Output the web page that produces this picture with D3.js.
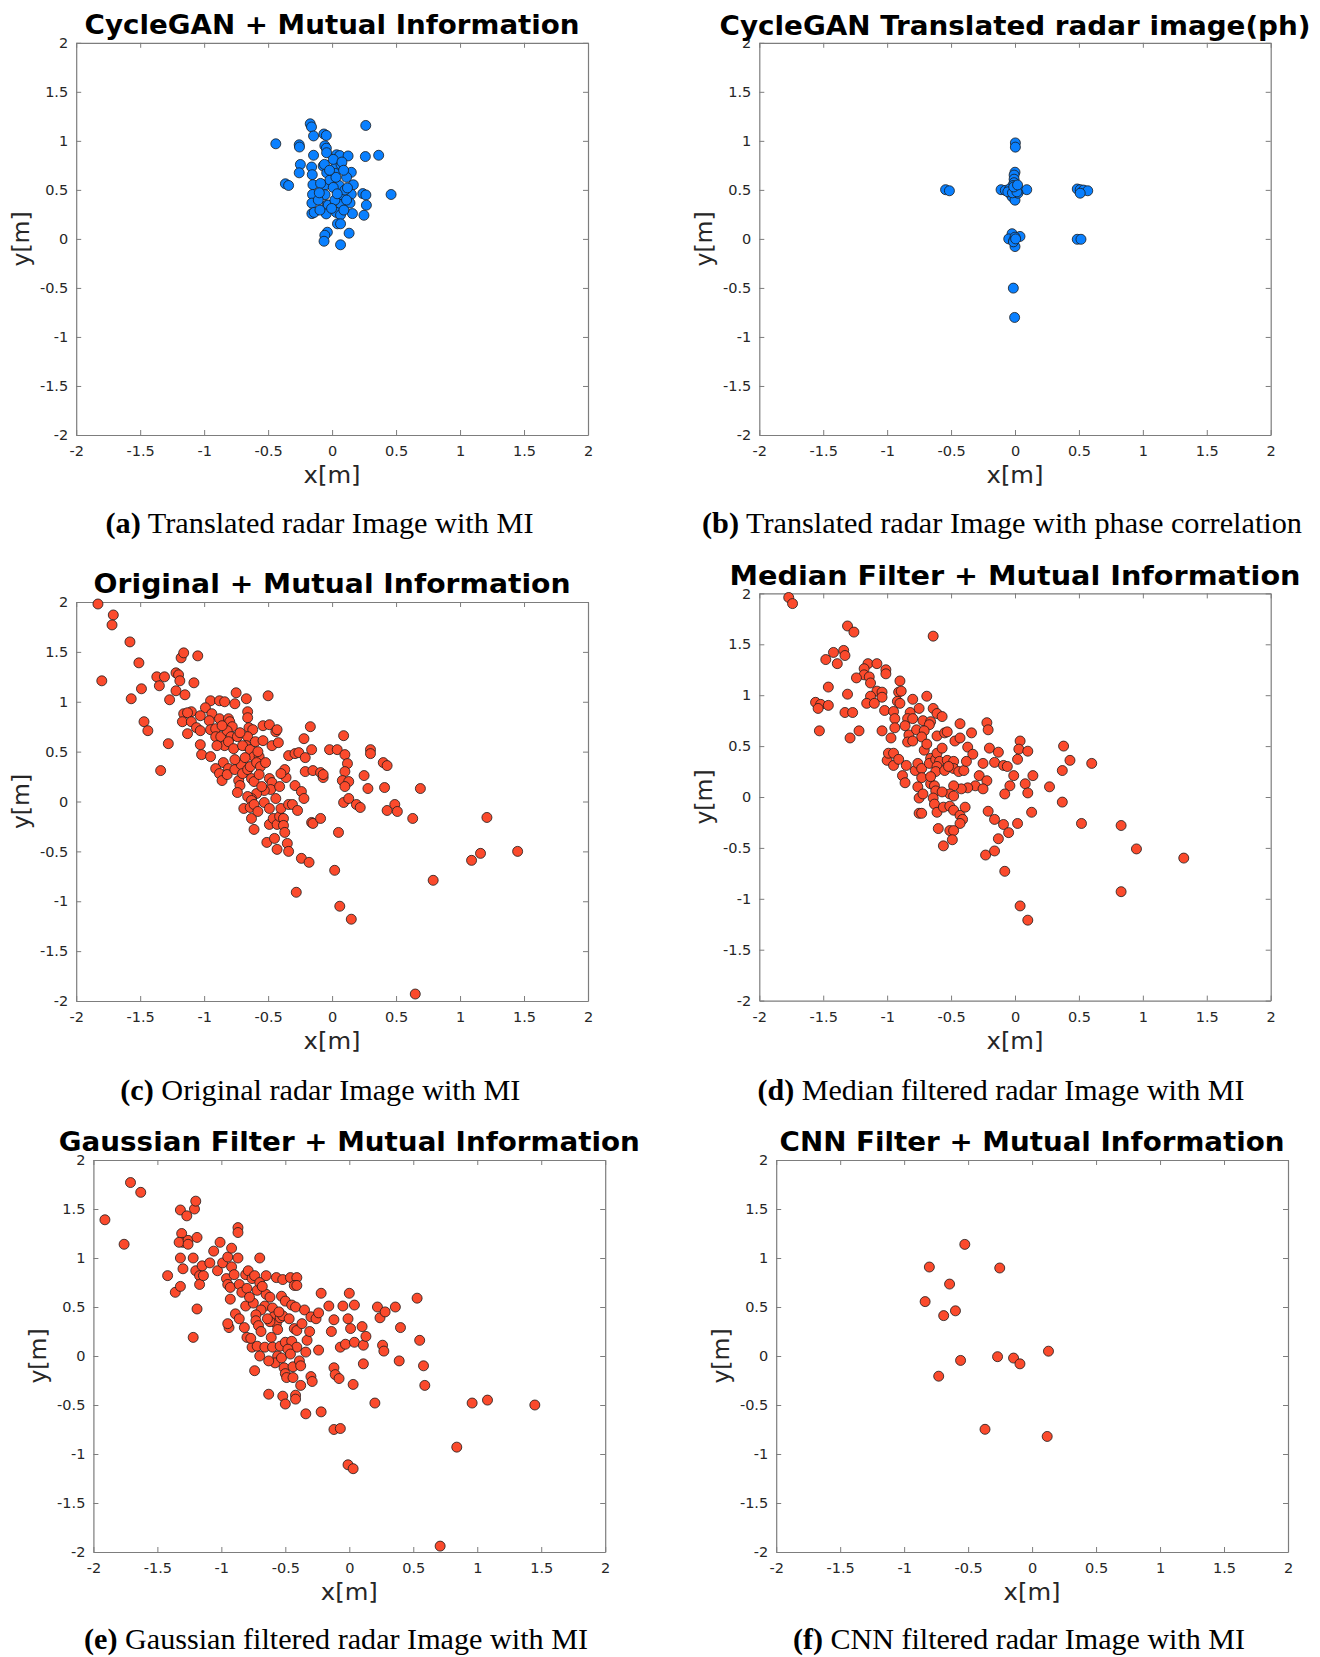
<!DOCTYPE html>
<html><head><meta charset="utf-8">
<script src="https://cdn.jsdelivr.net/npm/d3@7"></script>
<style>body{margin:0;background:#fff}svg{display:block}</style>
</head><body>
<svg id="chart" width="1320" height="1657"></svg>
<script>
const tickValues = [-2,-1.5,-1,-0.5,0,0.5,1,1.5,2];
const titles = ["CycleGAN + Mutual Information","CycleGAN Translated radar image(ph)","Original + Mutual Information","Median Filter + Mutual Information","Gaussian Filter + Mutual Information","CNN Filter + Mutual Information"];
const captionLetters = ["(a)","(b)","(c)","(d)","(e)","(f)"];
const captionTexts = [" Translated radar Image with MI"," Translated radar Image with phase correlation"," Original radar Image with MI"," Median filtered radar Image with MI"," Gaussian filtered radar Image with MI"," CNN filtered radar Image with MI"];
const xLabel = "x[m]", yLabel = "y[m]";

const pointsA = [[0.263,1.157],[-0.171,1.174],[-0.161,1.142],[-0.145,1.05],[-0.064,1.07],[-0.045,1.055],[-0.44,0.97],[-0.257,0.96],[-0.255,0.937],[-0.057,0.95],[-0.045,0.925],[-0.145,0.853],[-0.043,0.879],[0.035,0.858],[0.06,0.85],[0.125,0.846],[0.26,0.84],[0.364,0.853],[-0.248,0.759],[-0.16,0.733],[-0.07,0.744],[0.03,0.749],[0.07,0.757],[-0.257,0.674],[-0.155,0.655],[-0.042,0.674],[0.024,0.668],[0.15,0.679],[-0.365,0.562],[-0.34,0.545],[-0.15,0.553],[-0.055,0.55],[0.055,0.545],[0.166,0.552],[-0.153,0.453],[-0.055,0.451],[0.058,0.444],[0.15,0.456],[0.24,0.462],[0.264,0.448],[0.461,0.453],[-0.158,0.365],[-0.04,0.345],[-0.03,0.345],[0.07,0.352],[0.14,0.366],[0.268,0.344],[-0.158,0.258],[-0.14,0.27],[-0.046,0.255],[0.033,0.27],[0.066,0.245],[0.159,0.258],[0.249,0.241],[0.042,0.154],[0.066,0.154],[-0.037,0.068],[-0.057,0.037],[-0.063,-0.024],[0.133,0.058],[0.066,-0.06],[0.009,0.811],[0.077,0.784],[-0.017,0.6],[0.03,0.628],[0.113,0.628],[0.009,0.525],[0.1,0.498],[0.022,0.396],[0.113,0.396],[-0.004,0.311],[0.092,0.294],[-0.09,0.566],[-0.108,0.396],[-0.095,0.294],[-0.06,0.76],[0.09,0.7],[-0.1,0.47],[0.12,0.52],[0.04,0.46],[-0.02,0.7]];

const pointsB = [[0.003,0.979],[0.003,0.936],[0,0.68],[-0.007,0.651],[-0.007,0.609],[-0.007,0.573],[-0.016,0.544],[-0.109,0.502],[-0.076,0.495],[-0.043,0.509],[0.01,0.509],[0.033,0.491],[0.092,0.502],[-0.033,0.456],[-0.023,0.431],[0,0.395],[0.023,0.466],[0,0.491],[-0.056,0.48],[0.005,0.52],[-0.02,0.47],[0.015,0.48],[-0.01,0.53],[0.02,0.55],[-0.543,0.502],[-0.513,0.491],[0.487,0.509],[0.51,0.502],[0.536,0.498],[0.569,0.491],[0.51,0.466],[-0.023,0.053],[0.039,0.025],[-0.049,0],[0,0.018],[-0.01,-0.018],[0,-0.078],[-0.012,-0.03],[0.005,0.0],[0.487,-0.004],[0.516,-0.004],[-0.013,-0.502],[-0.003,-0.801]];

const pointsC = [[-1.83,1.98],[-1.71,1.87],[-1.72,1.77],[-1.58,1.6],[-1.51,1.39],[-1.8,1.21],[-1.37,1.25],[-1.31,1.25],[-1.35,1.16],[-1.49,1.13],[-1.57,1.03],[-1.27,1.02],[-1.18,1.44],[-1.16,1.49],[-1.05,1.46],[-1.22,1.29],[-1.2,1.27],[-1.19,1.21],[-1.08,1.19],[-1.22,1.11],[-1.15,1.07],[-1.47,0.8],[-1.44,0.71],[-1.28,0.58],[-1.34,0.31],[-0.75,1.09],[-0.67,1.03],[-0.5,1.06],[-0.95,1.01],[-0.88,1.01],[-0.84,1.0],[-0.76,0.98],[-0.99,0.94],[-1.1,0.9],[-1.16,0.88],[-1.13,0.89],[-1.03,0.86],[-1.17,0.8],[-1.1,0.8],[-1.06,0.74],[-1.13,0.68],[-1.03,0.71],[-0.94,0.88],[-0.96,0.81],[-0.95,0.72],[-0.91,0.73],[-0.91,0.65],[-0.88,0.83],[-0.87,0.65],[-0.81,0.83],[-0.8,0.8],[-0.78,0.75],[-0.82,0.71],[-0.79,0.65],[-0.84,0.56],[-0.81,0.6],[-0.77,0.53],[-0.74,0.65],[-0.66,0.9],[-0.66,0.84],[-0.65,0.74],[-0.62,0.72],[-0.66,0.65],[-0.67,0.56],[-0.7,0.56],[-0.64,0.52],[-0.6,0.6],[-0.54,0.61],[-0.54,0.76],[-0.49,0.77],[-0.47,0.56],[-0.44,0.7],[-0.43,0.72],[-0.42,0.59],[-0.17,0.75],[-0.22,0.63],[-0.16,0.52],[-1.03,0.57],[-1.02,0.47],[-0.95,0.45],[-0.91,0.33],[-0.88,0.28],[-0.86,0.21],[-0.85,0.39],[-0.81,0.33],[-0.82,0.27],[-0.76,0.32],[-0.73,0.21],[-0.72,0.16],[-0.74,0.09],[-0.71,0.37],[-0.7,0.28],[-0.66,0.32],[-0.64,0.35],[-0.63,0.23],[-0.61,0.2],[-0.61,0.45],[-0.57,0.45],[-0.59,0.39],[-0.56,0.35],[-0.52,0.39],[-0.57,0.27],[-0.49,0.23],[-0.47,0.19],[-0.48,0.12],[-0.53,0.11],[-0.59,0.08],[-0.63,0.03],[-0.66,0.05],[-0.63,0.01],[-0.69,-0.07],[-0.64,-0.06],[-0.61,-0.03],[-0.53,-0.01],[-0.49,-0.07],[-0.44,0.03],[-0.63,-0.17],[-0.61,-0.28],[-0.49,-0.23],[-0.46,-0.17],[-0.43,-0.23],[-0.41,-0.15],[-0.38,-0.17],[-0.38,-0.24],[-0.37,-0.31],[-0.51,-0.41],[-0.45,-0.37],[-0.43,-0.48],[-0.35,-0.42],[-0.34,-0.5],[-0.4,-0.07],[-0.34,-0.03],[-0.31,-0.03],[-0.27,-0.09],[-0.41,0.15],[-0.36,0.24],[-0.37,0.32],[-0.4,0.28],[-0.34,0.46],[-0.29,0.48],[-0.26,0.49],[-0.21,0.44],[-0.21,0.3],[-0.15,0.31],[-0.09,0.29],[-0.07,0.24],[-0.07,0.27],[-0.29,0.16],[-0.24,0.1],[-0.22,0.03],[-0.16,-0.21],[-0.15,-0.22],[-0.09,-0.17],[-0.24,-0.57],[-0.18,-0.61],[-0.28,-0.91],[0.02,-0.69],[0.05,-0.31],[0.06,-1.05],[0.15,-1.18],[-0.02,0.52],[0.04,0.52],[0.09,0.66],[0.1,0.47],[0.12,0.38],[0.1,0.3],[0.08,0.21],[0.13,0.2],[0.1,0.15],[0.09,-0.01],[0.13,0.03],[0.19,-0.03],[0.22,-0.06],[0.25,0.26],[0.28,0.13],[0.3,0.52],[0.3,0.48],[0.4,0.39],[0.43,0.36],[0.41,0.14],[0.43,-0.09],[0.49,-0.03],[0.51,-0.1],[0.63,-0.17],[0.69,0.13],[0.79,-0.79],[1.09,-0.59],[1.16,-0.52],[1.21,-0.16],[1.45,-0.5],[0.65,-1.93],[-0.86,0.76],[-0.72,0.69],[-0.58,0.5],[-0.68,0.44],[-0.55,0.15],[-0.58,-0.1],[-0.9,0.56],[-0.76,0.42]];

const pointsD = [[-1.77,1.96],[-1.74,1.9],[-1.31,1.68],[-1.26,1.62],[-0.64,1.58],[-1.34,1.44],[-1.33,1.39],[-1.42,1.42],[-1.48,1.35],[-1.39,1.31],[-1.15,1.31],[-1.08,1.31],[-1.01,1.25],[-1.01,1.21],[-1.18,1.26],[-1.18,1.2],[-1.24,1.17],[-1.14,1.18],[-1.13,1.12],[-0.9,1.14],[-1.46,1.08],[-1.08,1.04],[-1.04,1.03],[-0.91,1.03],[-0.89,1.04],[-1.31,1.01],[-1.13,0.99],[-1.04,0.98],[-0.69,0.99],[-0.8,0.96],[-1.56,0.93],[-1.52,0.91],[-1.54,0.87],[-1.46,0.9],[-1.16,0.92],[-1.1,0.92],[-0.92,0.94],[-0.9,0.92],[-1.33,0.83],[-1.27,0.83],[-1.02,0.85],[-0.95,0.84],[-0.94,0.77],[-0.82,0.83],[-0.75,0.87],[-0.64,0.87],[-0.61,0.82],[-0.57,0.79],[-0.84,0.77],[-0.8,0.77],[-0.72,0.75],[-0.66,0.74],[-0.67,0.71],[-0.43,0.72],[-0.22,0.73],[-0.21,0.66],[-1.53,0.65],[-1.22,0.65],[-1.29,0.58],[-1.04,0.65],[-0.94,0.68],[-0.83,0.61],[-0.84,0.54],[-0.77,0.66],[-0.71,0.65],[-0.73,0.59],[-0.8,0.55],[-0.97,0.58],[-0.61,0.6],[-0.55,0.63],[-0.53,0.64],[-0.47,0.55],[-0.43,0.58],[-0.34,0.63],[-0.37,0.49],[-0.33,0.42],[-0.2,0.48],[-0.13,0.44],[0.04,0.55],[0.03,0.47],[0.1,0.45],[0.38,0.5],[0.43,0.36],[0.6,0.33],[0.37,0.26],[-1.0,0.36],[-0.99,0.43],[-0.95,0.43],[-0.95,0.31],[-0.91,0.37],[-0.85,0.31],[-0.88,0.21],[-0.86,0.14],[-0.78,0.26],[-0.76,0.33],[-0.73,0.28],[-0.73,0.19],[-0.71,0.46],[-0.66,0.38],[-0.67,0.33],[-0.62,0.37],[-0.61,0.43],[-0.59,0.35],[-0.61,0.3],[-0.62,0.25],[-0.55,0.26],[-0.53,0.36],[-0.48,0.35],[-0.48,0.28],[-0.44,0.25],[-0.4,0.26],[-0.38,0.35],[-0.25,0.33],[-0.16,0.34],[-0.09,0.31],[-0.06,0.3],[0.02,0.37],[-0.01,0.21],[0.14,0.21],[-0.28,0.21],[-0.22,0.16],[-0.31,0.11],[-0.37,0.09],[-0.25,0.08],[-0.42,0.08],[-0.48,0.11],[-0.51,0.03],[-0.48,0.01],[-0.76,0.1],[-0.75,-0.01],[-0.72,0.03],[-0.66,0.13],[-0.63,0.11],[-0.62,0.06],[-0.64,-0.01],[-0.63,-0.07],[-0.75,-0.16],[-0.73,-0.16],[-0.61,-0.15],[-0.6,-0.31],[-0.56,-0.1],[-0.51,-0.09],[-0.48,-0.13],[-0.43,-0.18],[-0.41,-0.22],[-0.43,-0.26],[-0.39,-0.1],[-0.51,-0.33],[-0.48,-0.33],[-0.56,-0.48],[-0.49,-0.42],[-0.21,-0.14],[-0.16,-0.22],[-0.13,-0.41],[-0.09,-0.27],[-0.05,-0.35],[0.02,-0.26],[-0.04,0.11],[-0.08,0.03],[0.08,0.13],[0.1,0.04],[0.13,-0.15],[0.27,0.1],[0.37,-0.05],[0.52,-0.26],[0.83,-0.28],[0.95,-0.51],[1.32,-0.6],[0.83,-0.93],[-0.23,-0.57],[-0.16,-0.53],[-0.08,-0.73],[0.04,-1.07],[0.1,-1.21],[-0.86,0.7],[-0.69,0.52],[-0.57,0.48],[-0.52,0.3],[-0.66,0.2],[-0.57,0.05]];

const pointsE = [[-1.91,1.39],[-1.71,1.77],[-1.63,1.67],[-1.76,1.14],[-1.42,0.82],[-1.36,0.65],[-1.32,0.71],[-1.32,1.49],[-1.27,1.43],[-1.21,1.5],[-1.2,1.58],[-1.31,1.25],[-1.3,1.16],[-1.33,1.16],[-1.26,1.18],[-1.26,1.14],[-1.19,1.21],[-1.32,1.0],[-1.3,0.89],[-1.22,1.0],[-1.2,0.87],[-1.17,0.82],[-1.17,0.73],[-1.14,0.82],[-1.15,0.92],[-1.19,0.48],[-1.22,0.19],[-1.06,1.07],[-1.01,1.16],[-1.09,0.95],[-1.03,0.87],[-0.99,0.95],[-0.95,1.01],[-0.92,1.1],[-0.87,1.31],[-0.87,1.26],[-0.87,1.0],[-0.92,0.91],[-0.96,0.79],[-0.95,0.73],[-0.93,0.7],[-0.93,0.58],[-0.9,0.83],[-0.86,0.73],[-0.84,0.65],[-0.81,0.83],[-0.79,0.87],[-0.8,0.69],[-0.81,0.51],[-0.76,0.79],[-0.74,0.82],[-0.7,1.0],[-0.72,0.67],[-0.75,0.54],[-0.7,0.75],[-0.65,0.82],[-0.57,0.8],[-0.52,0.78],[-0.46,0.8],[-0.41,0.8],[-0.43,0.72],[-0.41,0.72],[-0.65,0.63],[-0.66,0.51],[-0.69,0.47],[-0.73,0.42],[-0.73,0.36],[-0.71,0.31],[-0.69,0.25],[-0.76,0.09],[-0.72,0.1],[-0.7,0.0],[-0.74,-0.15],[-0.89,0.43],[-0.86,0.38],[-0.94,0.29],[-0.95,0.33],[-0.82,0.29],[-0.8,0.19],[-0.77,0.18],[-0.53,0.61],[-0.5,0.56],[-0.45,0.52],[-0.42,0.5],[-0.6,0.49],[-0.59,0.4],[-0.57,0.33],[-0.56,0.27],[-0.62,0.35],[-0.64,0.38],[-0.54,0.39],[-0.52,0.41],[-0.47,0.38],[-0.43,0.28],[-0.41,0.26],[-0.61,0.19],[-0.66,0.09],[-0.6,0.09],[-0.54,0.1],[-0.5,0.14],[-0.45,0.15],[-0.41,0.09],[-0.48,0.07],[-0.56,0.0],[-0.58,-0.07],[-0.53,-0.02],[-0.63,-0.05],[-0.63,-0.39],[-0.52,-0.41],[-0.5,-0.49],[-0.51,-0.12],[-0.5,-0.18],[-0.49,-0.22],[-0.44,-0.11],[-0.44,-0.22],[-0.39,-0.05],[-0.38,-0.1],[-0.34,0.04],[-0.33,0.16],[-0.31,0.25],[-0.38,-0.3],[-0.42,-0.4],[-0.42,-0.44],[-0.34,-0.59],[-0.3,-0.21],[-0.29,-0.26],[-0.22,-0.57],[-0.35,0.47],[-0.3,0.4],[-0.26,0.38],[-0.24,0.44],[-0.22,0.64],[-0.24,0.06],[-0.16,0.51],[-0.14,0.25],[-0.12,0.37],[-0.12,-0.12],[-0.11,-0.19],[-0.08,-0.23],[-0.12,-0.75],[-0.07,-0.74],[-0.07,0.09],[-0.03,0.12],[-0.05,0.51],[-0.01,0.38],[0.01,0.28],[0.0,0.64],[0.04,0.52],[0.04,0.14],[0.1,0.3],[0.11,0.11],[0.13,0.2],[0.11,-0.08],[0.03,-0.29],[0.2,-0.48],[0.22,0.5],[0.24,0.39],[0.28,0.45],[0.36,0.5],[0.26,0.11],[0.27,0.05],[0.4,0.29],[0.39,-0.05],[0.53,0.59],[0.55,0.16],[0.58,-0.1],[0.59,-0.3],[0.84,-0.93],[0.96,-0.48],[1.08,-0.45],[1.45,-0.5],[0.71,-1.94],[-0.01,-1.11],[0.03,-1.15],[-0.78,0.6],[-0.62,0.6],[-0.68,0.71],[-0.55,0.45],[-0.46,0.02],[-0.37,0.33]];

const pointsF = [[-0.526,1.139],[-0.803,0.908],[-0.253,0.898],[-0.645,0.734],[-0.836,0.555],[-0.599,0.461],[-0.691,0.412],[-0.27,-0.007],[-0.145,-0.021],[-0.095,-0.08],[0.128,0.049],[-0.559,-0.045],[-0.73,-0.206],[-0.368,-0.748],[0.118,-0.821]];

const seriesPoints = [pointsA, pointsB, pointsC, pointsD, pointsE, pointsF];
const seriesColors = ["#0a80ff","#0a80ff","#fb4a2c","#fb4a2c","#fb4a2c","#fb4a2c"];

// layout (positions only)
const layout = [
  {l:76.2, r:588, t:42.8, b:435, titleY:34, titleW:495, capX:319.5, capY:533, capW:428},
  {l:759.3, r:1270.7, t:42.8, b:435, titleY:35, titleW:591, capX:1002, capY:533, capW:600},
  {l:76.2, r:588, t:602, b:1001, titleY:593, titleW:477, capX:320.3, capY:1099.5, capW:400},
  {l:759.3, r:1270.7, t:593.4, b:1000.6, titleY:585, titleW:571, capX:1001, capY:1099.5, capW:487},
  {l:93.4, r:605.2, t:1160, b:1552, titleY:1151, titleW:581, capX:336, capY:1649, capW:504},
  {l:776.2, r:1288, t:1160, b:1552, titleY:1151, titleW:505, capX:1019, capY:1649, capW:452}
];

const svg = d3.select("#chart");
const axisGray = "#7d7d7d";
const fmt = d => String(d);

layout.forEach((L, i) => {
  const g = svg.append("g");
  const x = d3.scaleLinear().domain([-2, 2]).range([L.l, L.r]);
  const y = d3.scaleLinear().domain([-2, 2]).range([L.b, L.t]);

  const axes = [
    g.append("g").attr("transform", `translate(0,${L.b})`)
      .call(d3.axisBottom(x).tickValues(tickValues).tickSizeInner(-5).tickSizeOuter(0).tickPadding(11).tickFormat(fmt)),
    g.append("g").attr("transform", `translate(${L.l},0)`)
      .call(d3.axisLeft(y).tickValues(tickValues).tickSizeInner(-5).tickSizeOuter(0).tickPadding(8).tickFormat(fmt)),
    g.append("g").attr("transform", `translate(0,${L.t})`)
      .call(d3.axisTop(x).tickValues(tickValues).tickSizeInner(-5).tickSizeOuter(0).tickFormat("")),
    g.append("g").attr("transform", `translate(${L.r},0)`)
      .call(d3.axisRight(y).tickValues(tickValues).tickSizeInner(-5).tickSizeOuter(0).tickFormat(""))
  ];
  axes.forEach(a => {
    a.select(".domain").attr("stroke", axisGray).attr("stroke-width", 1.2);
    a.selectAll(".tick line").attr("stroke", axisGray).attr("stroke-width", 1);
    a.selectAll(".tick text").attr("fill", "#262626")
      .style("font-family", "'DejaVu Sans', sans-serif").style("font-size", "14.5px");
  });

  // points
  g.append("g").selectAll("circle").data(seriesPoints[i]).join("circle")
    .attr("cx", d => x(d[0])).attr("cy", d => y(d[1])).attr("r", 5)
    .attr("fill", seriesColors[i]).attr("stroke", "#1a1a1a").attr("stroke-width", 0.8);

  // axis labels
  g.append("text").attr("x", (L.l + L.r) / 2).attr("y", L.b + 48)
    .attr("text-anchor", "middle").attr("fill", "#262626")
    .style("font-family", "'DejaVu Sans', sans-serif").style("font-size", "23.5px")
    .attr("textLength", 57).attr("lengthAdjust", "spacingAndGlyphs")
    .text(xLabel);
  g.append("text").attr("transform", `translate(${L.l - 47},${(L.t + L.b) / 2}) rotate(-90)`)
    .attr("text-anchor", "middle").attr("fill", "#262626")
    .style("font-family", "'DejaVu Sans', sans-serif").style("font-size", "23.5px")
    .text(yLabel);

  // title
  g.append("text").attr("x", (L.l + L.r) / 2).attr("y", L.titleY)
    .attr("text-anchor", "middle").attr("fill", "#000")
    .style("font-family", "'DejaVu Sans', sans-serif").style("font-weight", "bold").style("font-size", "26px")
    .attr("textLength", L.titleW).attr("lengthAdjust", "spacingAndGlyphs")
    .text(titles[i]);

  // caption
  const cap = g.append("text").attr("x", L.capX).attr("y", L.capY)
    .attr("text-anchor", "middle").attr("fill", "#000")
    .style("font-family", "'Liberation Serif', 'Times New Roman', serif").style("font-size", "30px")
    .attr("textLength", L.capW).attr("lengthAdjust", "spacingAndGlyphs");
  cap.append("tspan").style("font-weight", "bold").text(captionLetters[i]);
  cap.append("tspan").text(captionTexts[i]);
});
</script>
</body></html>
